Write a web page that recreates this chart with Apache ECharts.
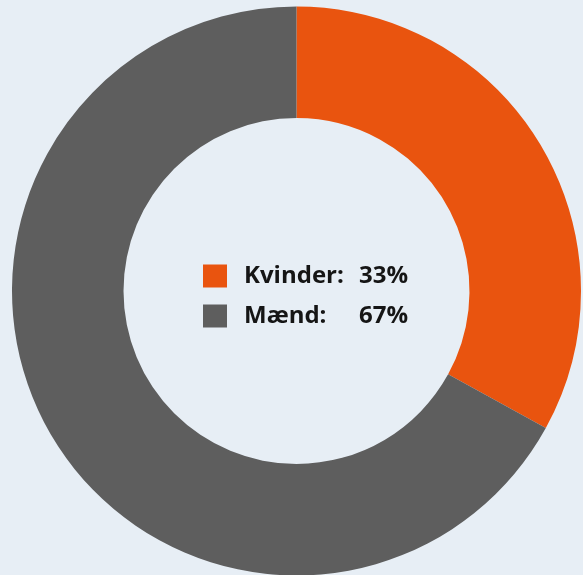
<!DOCTYPE html>
<html>
<head>
<meta charset="utf-8">
<style>
  html, body { margin: 0; padding: 0; background: #e7eef5; }
  #chart { width: 583px; height: 575px; }
</style>
<script src="https://cdn.jsdelivr.net/npm/echarts@6/dist/echarts.min.js"></script>
</head>
<body>
<div id="chart"></div>
<script>
const categories = ['Kvinder', 'Mænd']
const values = [33, 67]
const colors = ['#e9540f', '#5e5e5e']

const chart = echarts.init(document.getElementById('chart'), null, { renderer: 'canvas' })

const pieData = categories.map((name, i) => ({
  name,
  value: values[i],
  itemStyle: { color: colors[i] }
}))

const txt = { fontFamily: 'Open Sans', fontSize: 24, fontWeight: 'bold', color: '#151515' }

chart.setOption({
  backgroundColor: '#e7eef5',
  animation: false,
  legend: {
    orient: 'vertical',
    left: 203,
    top: 264,
    padding: 0,
    itemWidth: 24,
    itemHeight: 23,
    itemGap: 16,
    icon: 'rect',
    data: categories,
    formatter: name => {
      const i = categories.indexOf(name)
      return '{n|' + name + ':}{v|' + values[i] + '%}'
    },
    textStyle: Object.assign({}, txt, {
      rich: {
        n: Object.assign({}, txt, { width: 112, padding: [0, 0, 0, 12] }),
        v: Object.assign({}, txt, { width: 52, align: 'right' })
      }
    })
  },
  series: [{
    type: 'pie',
    center: [296.5, 291],
    radius: [173, 284.5],
    startAngle: 90,
    clockwise: true,
    label: { show: false },
    labelLine: { show: false },
    emphasis: { disabled: true },
    data: pieData
  }]
})
</script>
</body>
</html>
